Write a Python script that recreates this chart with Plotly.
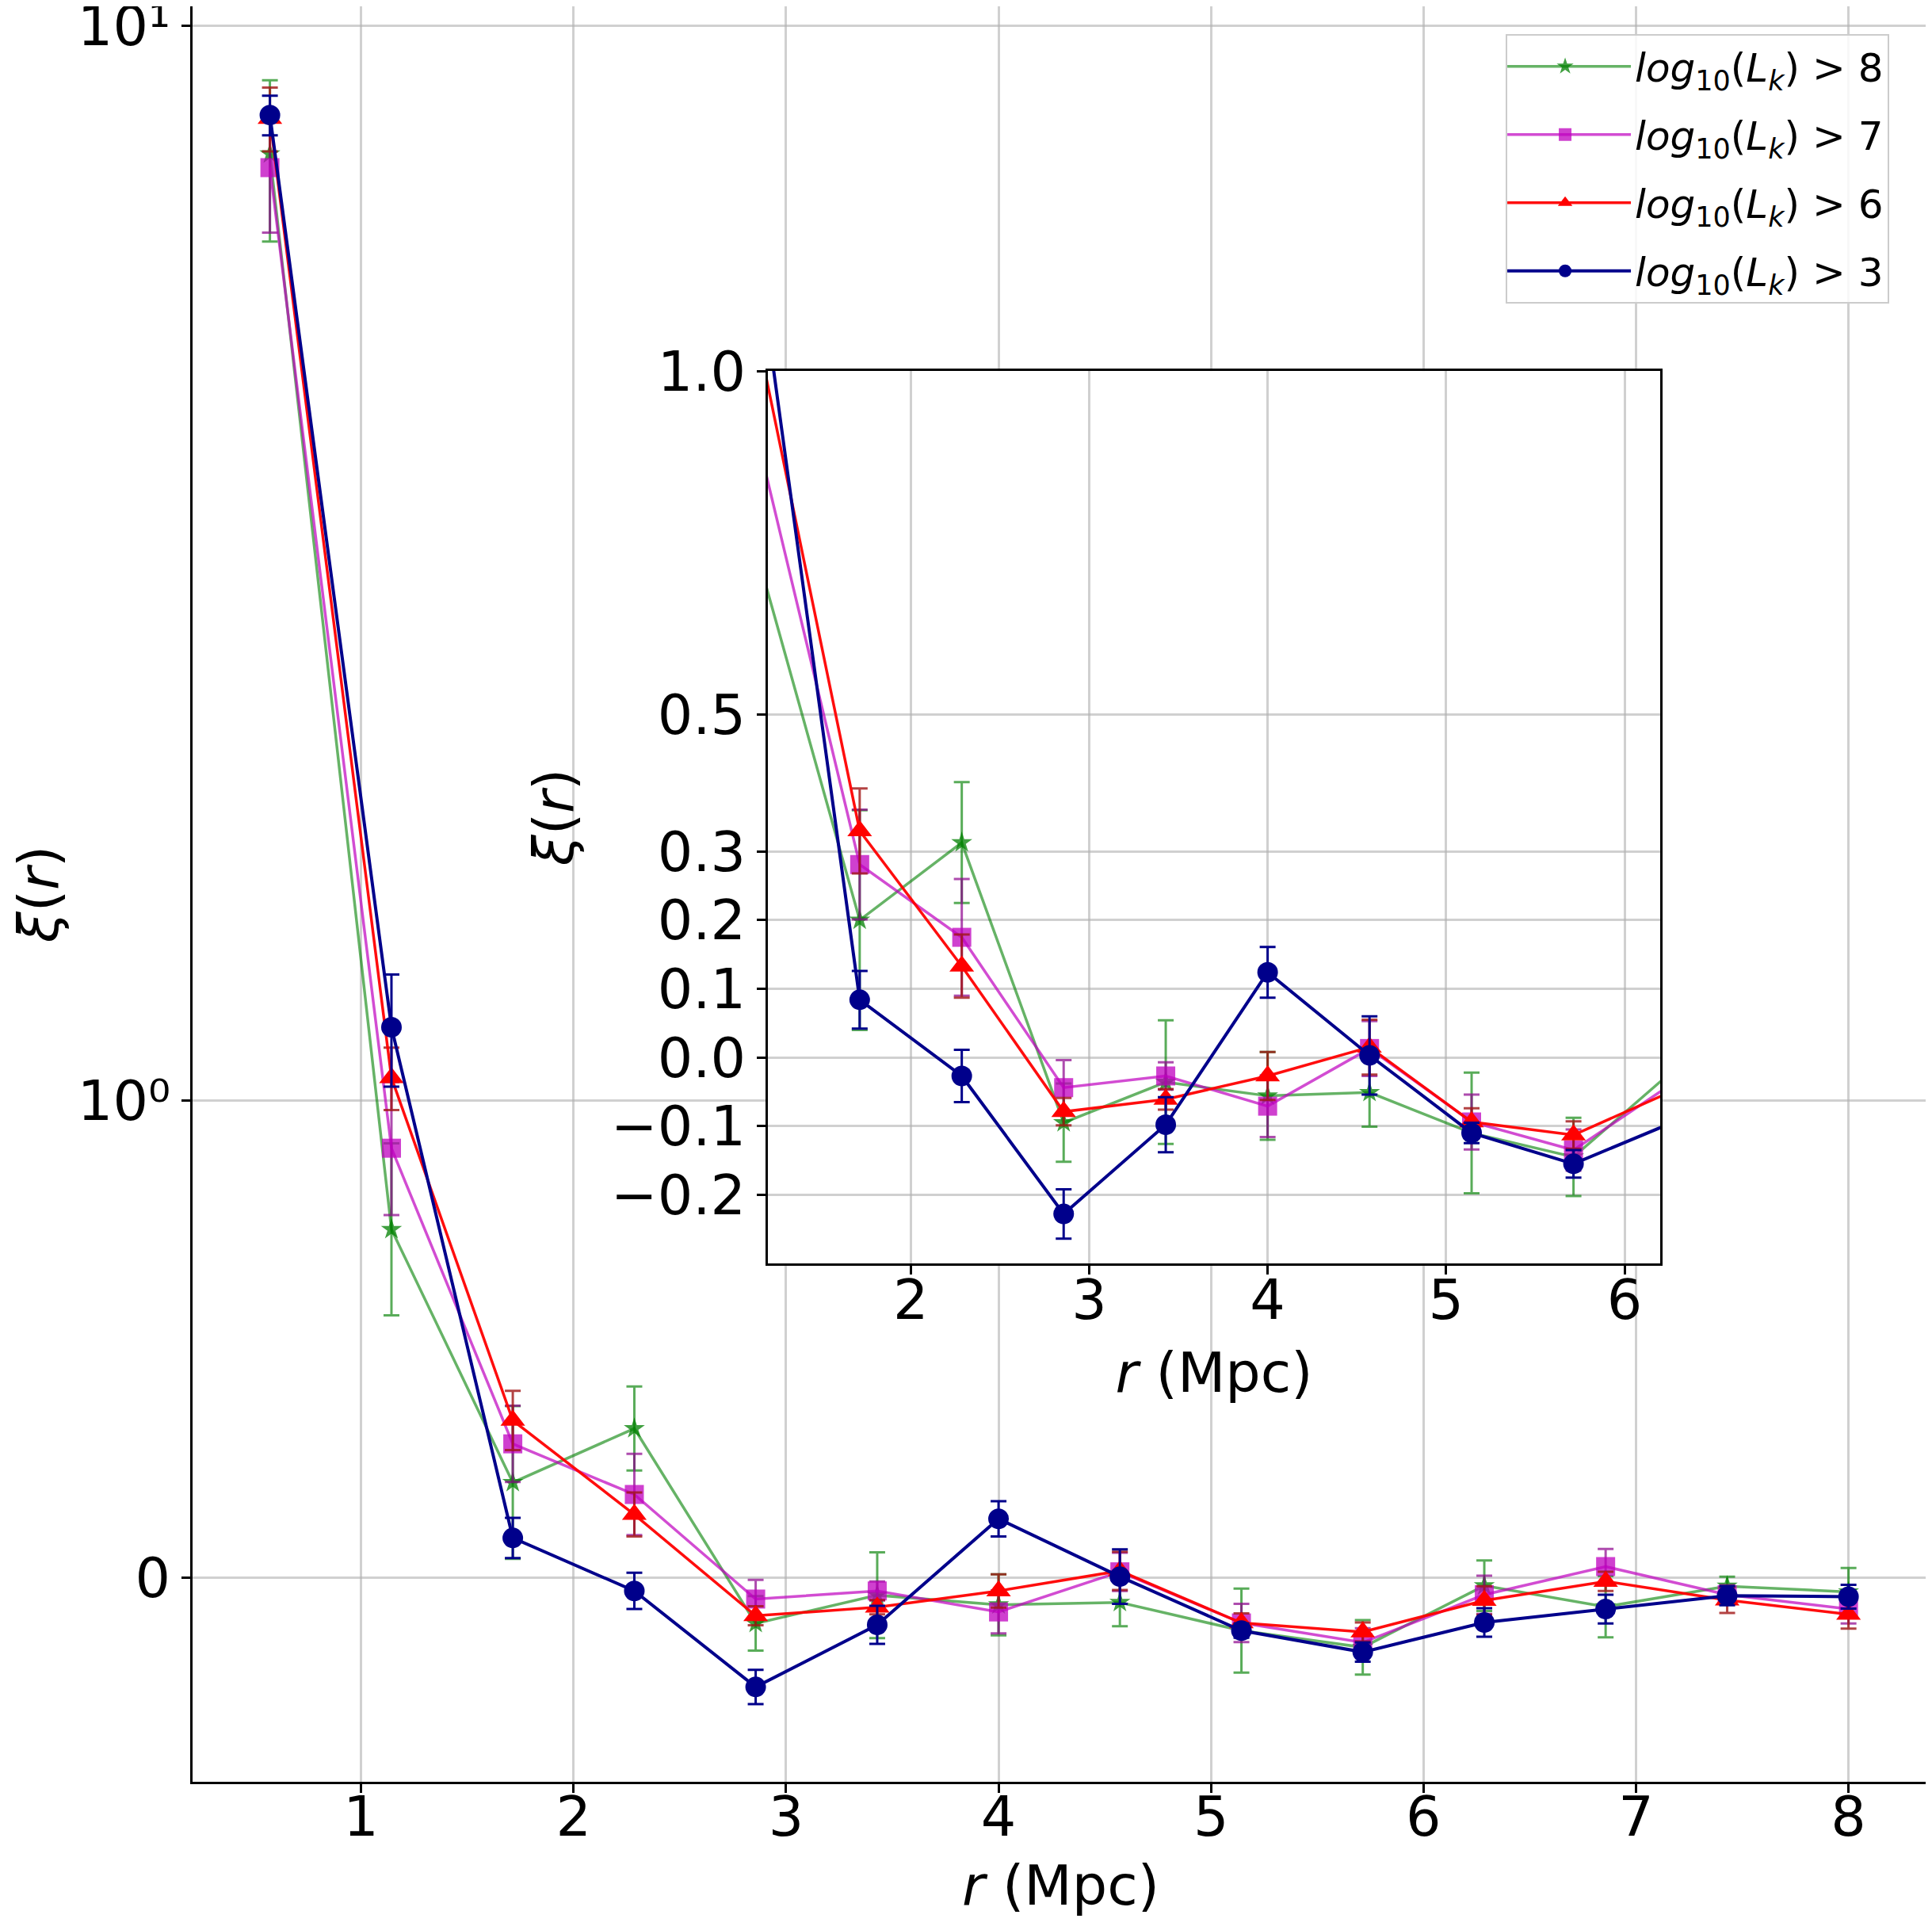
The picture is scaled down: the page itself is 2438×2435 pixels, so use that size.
import numpy as np
import plotly.graph_objects as go

# ---------------- data ----------------
r_mpc = [0.571, 1.143, 1.714, 2.286, 2.857, 3.429, 4.0, 4.571, 5.143, 5.714, 6.286, 6.857, 7.429, 8.0]

series_names = [
    "<i>log</i><sub>10</sub>(<i>L</i><sub><i>k</i></sub>) > 8",
    "<i>log</i><sub>10</sub>(<i>L</i><sub><i>k</i></sub>) > 7",
    "<i>log</i><sub>10</sub>(<i>L</i><sub><i>k</i></sub>) > 6",
    "<i>log</i><sub>10</sub>(<i>L</i><sub><i>k</i></sub>) > 3",
]

xi_gt8 = [7.6, 0.73, 0.20, 0.313, -0.095, -0.036, -0.056, -0.051, -0.11, -0.145, -0.016, -0.06, -0.017, -0.029]
err_gt8 = [1.3, 0.18, 0.16, 0.088, 0.057, 0.09, 0.064, 0.05, 0.088, 0.057, 0.053, 0.064, 0.02, 0.05]

xi_gt7 = [7.38, 0.90, 0.281, 0.175, -0.044, -0.027, -0.071, 0.013, -0.094, -0.135, -0.035, 0.024, -0.035, -0.065]
err_gt7 = [0.96, 0.14, 0.08, 0.085, 0.04, 0.02, 0.045, 0.04, 0.04, 0.03, 0.04, 0.037, 0.02, 0.03]

xi_gt6 = [8.2, 1.05, 0.33, 0.133, -0.079, -0.061, -0.027, 0.015, -0.094, -0.113, -0.047, -0.007, -0.046, -0.076]
err_gt6 = [0.56, 0.07, 0.062, 0.046, 0.02, 0.015, 0.035, 0.04, 0.02, 0.02, 0.03, 0.02, 0.027, 0.03]

xi_gt3 = [8.26, 1.17, 0.084, -0.027, -0.228, -0.098, 0.124, 0.003, -0.11, -0.155, -0.093, -0.065, -0.037, -0.039]
err_gt3 = [0.35, 0.14, 0.042, 0.038, 0.036, 0.04, 0.037, 0.057, 0.015, 0.02, 0.03, 0.03, 0.02, 0.025]

main_xticks = [1, 2, 3, 4, 5, 6, 7, 8]
main_yticks = [0, 1, 10]
main_yticktext = ["0", "10\u2070", "10\u00b9"]
inset_xticks = [2, 3, 4, 5, 6]
inset_yticks = [-0.2, -0.1, 0.0, 0.1, 0.2, 0.3, 0.5, 1.0]
inset_yticktext = ["\u22120.2", "\u22120.1", "0.0", "0.1", "0.2", "0.3", "0.5", "1.0"]

# ---------------- symlog transform (linthresh=1, linscale=0.4) ----------------
A = 0.4 / 0.9


def symlog(v):
    v = np.asarray(v, dtype=float)
    av = np.abs(v)
    return np.where(av <= 1, v * A, np.sign(v) * (A + np.log10(np.maximum(av, 1.0))))


styles = [
    dict(line="rgba(0,128,0,0.6)", marker="rgba(0,128,0,0.75)", err="rgba(0,128,0,0.65)",
         symbol="star", size=20, lw=3.5),
    dict(line="rgba(191,0,191,0.7)", marker="rgba(191,0,191,0.75)", err="rgba(140,0,140,0.7)",
         symbol="square", size=24, lw=3.5),
    dict(line="rgba(255,0,0,0.95)", marker="#ff0000", err="rgba(160,20,20,0.8)",
         symbol="triangle-up", size=27, lw=3.5),
    dict(line="#00008b", marker="#00008b", err="#00008b",
         symbol="circle", size=26, lw=4),
]

values = [xi_gt8, xi_gt7, xi_gt6, xi_gt3]
errors = [err_gt8, err_gt7, err_gt6, err_gt3]

fig = go.Figure()

# main axes traces
for name, v, e, st in zip(series_names, values, errors, styles):
    v = np.asarray(v, float)
    e = np.asarray(e, float)
    ty = symlog(v)
    up = symlog(v + e) - ty
    dn = ty - symlog(v - e)
    fig.add_trace(go.Scatter(
        x=r_mpc, y=ty, mode="lines+markers", name=name,
        legendgroup=name,
        line=dict(color=st["line"], width=st["lw"]),
        marker=dict(symbol=st["symbol"], size=st["size"], color=st["marker"], line=dict(width=0)),
        error_y=dict(type="data", symmetric=False, array=up, arrayminus=dn,
                     color=st["err"], thickness=3, width=10),
        xaxis="x", yaxis="y",
    ))

# inset traces
for name, v, e, st in zip(series_names, values, errors, styles):
    fig.add_trace(go.Scatter(
        x=r_mpc, y=v, mode="lines+markers", name=name, showlegend=False,
        legendgroup=name,
        line=dict(color=st["line"], width=st["lw"]),
        marker=dict(symbol=st["symbol"], size=st["size"], color=st["marker"], line=dict(width=0)),
        error_y=dict(type="data", array=e, color=st["err"], thickness=3, width=10),
        xaxis="x2", yaxis="y2",
    ))

FONT = "DejaVu Sans"
grid = "rgba(176,176,176,0.6)"
axis_common = dict(
    showgrid=True, gridcolor=grid, gridwidth=3, zeroline=False,
    showline=True, linecolor="black", linewidth=3, mirror=True,
    ticks="outside", ticklen=11, tickwidth=3, tickcolor="black",
    tickfont=dict(family=FONT, size=70, color="black"),
    automargin=False, ticklabeloverflow="allow",
)

fig.update_layout(
    width=2438, height=2435,
    margin=dict(l=235, r=12, t=0, b=195),
    paper_bgcolor="white", plot_bgcolor="white",
    font=dict(family=FONT, color="black"),
    xaxis=dict(domain=[0, 1], range=[0.207, 8.378], tickvals=main_xticks, anchor="y",
               ticklabelstandoff=-30,
               title=dict(text="<i>r</i> (Mpc)", font=dict(family=FONT, size=70), standoff=22),
               **axis_common),
    yaxis=dict(domain=[0, 1], range=[-0.1896, 1.4626], tickvals=symlog(main_yticks),
               ticktext=main_yticktext, anchor="x",
               title=dict(text="<i>ξ</i>(<i>r</i>)", font=dict(family=FONT, size=70), standoff=45),
               **axis_common),
    xaxis2=dict(domain=[0.3314, 0.8453], range=[1.2, 6.2], tickvals=inset_xticks, anchor="y2",
                ticklabelstandoff=-28,
                title=dict(text="<i>r</i> (Mpc)", font=dict(family=FONT, size=70), standoff=28),
                **axis_common),
    yaxis2=dict(domain=[0.292, 0.7946], range=[-0.3, 1.0], tickvals=inset_yticks,
                ticktext=inset_yticktext, anchor="x2",
                title=dict(text="<i>ξ</i>(<i>r</i>)", font=dict(family=FONT, size=70), standoff=25),
                **axis_common),
    legend=dict(x=0.7563, y=0.9845, xanchor="left", yanchor="top",
                bgcolor="rgba(255,255,255,0.85)", bordercolor="#cccccc", borderwidth=2,
                font=dict(family=FONT, size=50, color="black"),
                traceorder="grouped", tracegroupgap=18, itemwidth=166, indentation=-15),
    showlegend=True,
)

fig.write_html("out.html")
